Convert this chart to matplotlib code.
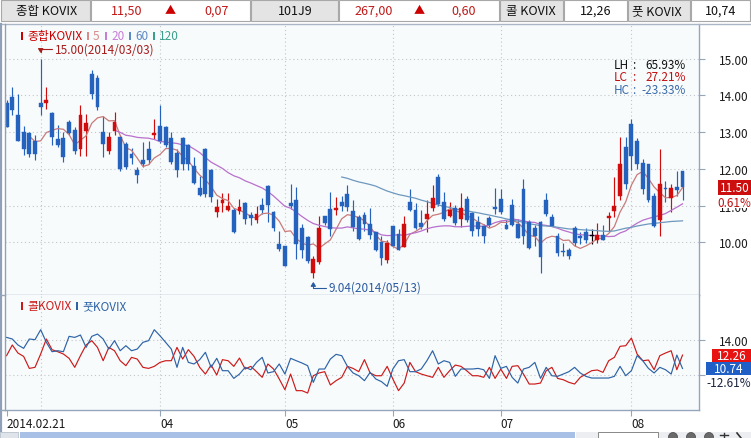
import numpy as np
import pandas as pd
import matplotlib
matplotlib.use("Agg")
import matplotlib.pyplot as plt
from matplotlib.patches import Rectangle, Circle
import matplotlib.transforms as mtrans

plt.rcParams['font.family'] = ['Noto Sans CJK KR', 'DejaVu Sans']

# ---------------- data ----------------
opens = [13.79, 13.97, 13.48, 13.00, 12.97, 12.77, 13.79, 13.80, 13.53, 12.82,
         12.85, 13.27, 13.06, 12.55, 13.02, 14.59, 14.47, 13.00, 12.50, 13.02,
         12.88, 12.68, 12.41, 11.97, 12.25, 12.55, 12.91, 13.18, 13.14, 12.85,
         12.43, 12.85, 12.64, 12.08, 11.47, 12.55, 11.96, 10.82, 11.06, 10.89,
         10.89, 10.86, 11.07, 10.75, 10.62, 11.02, 11.53, 10.82, 9.95, 9.89,
         11.06, 11.14, 10.38, 10.15, 9.16, 9.45, 10.71, 10.91, 10.89, 11.11,
         11.32, 10.85, 10.68, 10.75, 10.50, 10.27, 10.00, 9.52, 10.44, 10.23,
         9.86, 11.11, 10.89, 10.53, 10.64, 10.94, 11.77, 11.09, 10.71, 10.93,
         10.64, 11.18, 10.80, 10.56, 10.44, 10.65, 10.95, 11.18, 10.47, 11.02,
         10.50, 11.44, 10.55, 10.38, 10.56, 11.16, 10.68, 10.18, 9.76, 9.80,
         10.38, 10.16, 10.29, 10.16, 10.07, 10.20, 10.65, 10.84, 11.25, 12.61,
         13.23, 12.77, 12.16, 12.14, 11.25, 10.62, 11.47, 11.20, 11.50, 11.93]
highs = [13.88, 14.23, 14.05, 13.18, 13.00, 12.91, 15.00, 14.23, 13.55, 13.20,
         13.00, 13.34, 13.14, 13.73, 13.50, 14.70, 14.56, 13.43, 13.00, 13.55,
         12.91, 12.73, 12.57, 12.06, 12.73, 12.75, 13.36, 13.73, 13.18, 13.00,
         12.55, 12.88, 12.68, 12.32, 11.80, 12.57, 12.00, 11.17, 11.35, 11.35,
         10.93, 11.18, 11.10, 10.82, 11.00, 11.20, 11.56, 10.86, 10.32, 9.91,
         11.59, 11.52, 10.50, 10.18, 9.64, 10.73, 10.71, 11.38, 11.23, 11.25,
         11.56, 11.14, 10.75, 10.82, 10.93, 10.27, 10.18, 10.05, 10.45, 10.36,
         10.71, 11.44, 11.06, 10.89, 11.14, 11.56, 11.86, 11.38, 11.09, 11.02,
         11.34, 11.27, 10.82, 10.73, 10.50, 10.73, 11.47, 11.45, 10.62, 11.18,
         10.64, 11.73, 10.62, 10.47, 10.59, 11.34, 10.77, 10.25, 9.98, 9.84,
         10.44, 10.27, 10.38, 10.36, 10.53, 10.47, 10.82, 11.77, 12.86, 12.86,
         13.35, 12.84, 12.27, 12.14, 11.34, 12.53, 11.68, 11.59, 11.93, 11.93]
lows = [13.13, 13.48, 12.75, 12.39, 12.32, 12.25, 13.48, 13.64, 12.66, 12.59,
        12.20, 12.91, 12.41, 12.36, 12.34, 13.91, 13.61, 12.32, 12.41, 12.91,
        11.93, 12.00, 12.14, 11.61, 12.06, 12.14, 12.82, 12.70, 12.61, 12.12,
        11.77, 11.97, 11.97, 11.59, 11.27, 11.23, 11.10, 10.70, 10.83, 10.84,
        10.24, 10.76, 10.50, 10.47, 10.52, 10.77, 10.55, 10.32, 9.77, 9.36,
        10.91, 9.55, 9.56, 9.43, 9.04, 9.41, 10.47, 10.18, 10.75, 10.86,
        10.86, 10.32, 10.07, 10.32, 10.09, 9.77, 9.39, 9.43, 9.86, 9.80,
        9.86, 10.86, 10.35, 10.36, 10.27, 10.86, 11.00, 10.59, 10.68, 10.47,
        10.41, 10.56, 10.18, 10.18, 9.98, 10.41, 10.77, 10.77, 10.35, 10.45,
        10.11, 9.95, 9.82, 9.91, 9.16, 10.73, 10.45, 9.62, 9.62, 9.55,
        9.91, 9.95, 9.98, 9.94, 9.98, 10.05, 10.27, 10.68, 11.16, 11.45,
        11.98, 12.00, 11.32, 11.11, 10.41, 10.16, 11.09, 10.82, 11.27, 11.16]
closes = [13.13, 13.61, 12.75, 12.55, 12.41, 12.41, 13.70, 13.88, 12.86, 12.64,
          12.32, 12.97, 12.50, 13.47, 13.25, 14.03, 13.70, 12.68, 12.88, 13.29,
          12.00, 12.05, 12.30, 11.84, 12.14, 12.23, 12.98, 12.77, 12.64, 12.18,
          11.98, 12.14, 12.14, 11.62, 11.28, 11.32, 11.24, 10.96, 11.16, 11.00,
          10.28, 10.95, 10.64, 10.65, 10.77, 10.89, 11.02, 10.38, 9.82, 9.36,
          10.98, 9.95, 9.80, 9.50, 9.55, 10.39, 10.53, 10.36, 10.93, 10.99,
          10.95, 10.41, 10.09, 10.50, 10.20, 9.80, 9.56, 9.98, 9.91, 9.80,
          10.50, 10.89, 10.38, 10.41, 10.77, 11.21, 11.05, 10.64, 10.89, 10.53,
          10.94, 10.62, 10.32, 10.36, 10.16, 10.47, 10.91, 10.82, 10.35, 10.47,
          10.11, 10.18, 9.84, 10.18, 9.59, 10.77, 10.45, 9.71, 9.73, 9.64,
          9.98, 10.11, 10.05, 10.16, 10.20, 10.07, 10.71, 11.00, 12.14, 11.59,
          12.35, 12.14, 11.44, 11.16, 10.44, 11.59, 11.44, 11.47, 11.43, 11.50]
call_kovix = [12.19, 13.40, 12.49, 12.11, 10.75, 10.87, 12.38, 14.08, 12.87, 12.64,
              12.38, 11.89, 10.87, 12.19, 13.40, 13.89, 13.13, 11.62, 13.13, 12.75,
              11.62, 11.06, 12.00, 11.81, 10.87, 10.75, 10.98, 11.43, 11.62, 11.62,
              13.13, 11.81, 12.87, 12.11, 10.87, 10.11, 11.13, 10.00, 11.74, 11.62,
              10.98, 11.92, 10.68, 10.98, 10.38, 9.74, 11.25, 10.68, 9.55, 8.34,
              10.11, 8.23, 8.23, 7.96, 9.92, 10.23, 10.38, 8.87, 9.36, 9.74,
              10.98, 10.75, 10.38, 11.74, 10.23, 9.92, 9.92, 10.98, 9.55, 8.23,
              9.09, 11.43, 10.38, 10.11, 9.92, 9.74, 10.87, 9.74, 10.49, 11.13,
              10.98, 10.49, 9.92, 9.92, 9.74, 10.87, 9.62, 10.68, 9.62, 10.98,
              11.06, 10.11, 8.98, 8.98, 9.09, 10.49, 10.87, 9.62, 9.47, 9.17,
              8.98, 9.74, 10.11, 10.49, 10.57, 10.30, 11.62, 12.00, 13.25, 13.32,
              14.19, 12.38, 11.62, 11.70, 10.60, 12.19, 12.49, 12.75, 10.60, 12.26]
put_kovix = [14.26, 14.08, 13.40, 13.02, 14.08, 14.00, 15.13, 13.70, 12.64, 12.75,
             12.64, 14.38, 14.26, 14.53, 13.13, 14.38, 14.64, 14.08, 12.94, 13.89,
             12.75, 13.32, 12.75, 12.94, 13.70, 13.89, 15.13, 14.45, 13.70, 12.94,
             10.87, 13.13, 11.43, 11.25, 11.74, 12.57, 10.87, 11.89, 10.49, 10.49,
             9.62, 10.11, 10.87, 10.60, 11.43, 12.00, 10.23, 10.38, 11.25, 10.11,
             11.89, 11.62, 11.36, 11.06, 9.17, 10.68, 10.68, 11.81, 12.34, 12.19,
             10.98, 10.23, 9.92, 9.36, 10.30, 9.55, 9.25, 8.72, 10.68, 11.62,
             11.74, 10.38, 10.38, 10.68, 11.62, 12.75, 11.25, 11.62, 11.43, 9.85,
             10.68, 10.68, 10.68, 10.75, 10.60, 9.62, 12.19, 10.75, 10.98, 9.74,
             9.09, 10.68, 10.87, 11.43, 9.62, 10.87, 9.92, 9.85, 10.11, 10.38,
             10.87, 10.23, 9.85, 9.66, 9.66, 9.66, 9.66, 9.85, 10.98, 9.92,
             10.49, 12.19, 11.62, 10.75, 10.23, 10.87, 10.60, 10.11, 12.26, 10.74]

hi_date = '2014/03/03'
lo_date = '2014/05/13'
month_idx = [6, 27, 49, 68, 87, 110]
tick_idx = [0, 27, 49, 68, 87, 110]
tick_lbl = ['2014.02.21', '04', '05', '06', '07', '08']
price_ticks = [10, 11, 12, 13, 14, 15]
sub_ticks = [10, 14]
sub_tick_lbl = ['', '14.00']
ma_windows = [5, 20, 60, 120]
ma_labels = ['5', '20', '60', '120']
ma_colors = ['#c97a7a', '#b870cc', '#6d98bd', '#3aa08c']
main_name = '종합KOVIX'
call_name = '콜KOVIX'
put_name = '풋KOVIX'
fut_name = '101J9'
fut_price = 267.00
fut_change = 0.60
sub_pct = -12.61

# ---------------- layout ----------------
W, H = 751, 439
AX_L, AX_R = 5, 699
AX_T, AX_M, AX_B = 25, 296, 411
XLIM = (-0.28, 121.9)
YLIM_MAIN = (8.564, 15.948)
YLIM_SUB = (6.04, 19.06)
RED = '#d00c0c'
BLUE = '#2462bd'
FRAME = '#95a5ba'
GRID = '#c2c6ca'
PLOT_BG = '#f8fbfc'

fig = plt.figure(figsize=(W / 100, H / 100), dpi=100)
fig.patch.set_facecolor('white')


def frect(l, t, r, b):
    return [l / W, 1 - b / H, (r - l) / W, (b - t) / H]


ax = fig.add_axes(frect(AX_L, AX_T, AX_R, AX_M))
ax2 = fig.add_axes(frect(AX_L, AX_M, AX_R, AX_B))
ov = fig.add_axes([0, 0, 1, 1])
ov.set_xlim(0, W)
ov.set_ylim(H, 0)
ov.axis('off')
ov.patch.set_alpha(0)

for a in (ax, ax2):
    a.set_facecolor(PLOT_BG)
    a.set_xlim(*XLIM)
    for s in ('left', 'top'):
        a.spines[s].set_visible(False)
    for s in ('right', 'bottom'):
        a.spines[s].set_color(FRAME)
        a.spines[s].set_linewidth(1.0)
ax.set_ylim(*YLIM_MAIN)
ax2.set_ylim(*YLIM_SUB)

dotted = (0, (1, 2.5))
for t in price_ticks:
    ax.axhline(t, color=GRID, lw=0.8, ls=dotted, zorder=0.5)
for t in sub_ticks:
    ax2.axhline(t, color=GRID, lw=0.8, ls=dotted, zorder=0.5)
for m in month_idx:
    ax.axvline(m, color=GRID, lw=0.8, ls=dotted, zorder=0.5)
    ax2.axvline(m, color=GRID, lw=0.8, ls=dotted, zorder=0.5)

# ---------------- candles ----------------
o = np.array(opens); h = np.array(highs); l = np.array(lows); c = np.array(closes)
n = len(c)
x = np.arange(n)
cols = np.where(c > o, RED, np.where(c < o, BLUE, '#000000'))
ax.vlines(x, l, h, colors=cols, lw=0.85, zorder=2)
body_bot = np.minimum(o, c)
body_h = np.maximum(np.abs(c - o), 0.03)
ax.bar(x, body_h, bottom=body_bot, width=0.68, color=cols, edgecolor=cols,
       lw=0.3, zorder=3)

cs = pd.Series(closes)
for w, col in zip(ma_windows, ma_colors):
    ax.plot(x, cs.rolling(w).mean(), color=col, lw=0.9, zorder=2.5)

# ---------------- sub panel ----------------
ax2.plot(x, call_kovix, color='#cc1a1a', lw=0.85, zorder=2)
ax2.plot(x, put_kovix, color='#2d63a6', lw=0.85, zorder=2)

# ---------------- ticks ----------------
for a, tk, tl in ((ax, price_ticks, [f'{t:.2f}' for t in price_ticks]),
                  (ax2, sub_ticks, sub_tick_lbl)):
    a.yaxis.tick_right()
    a.set_yticks(tk)
    a.set_yticklabels(tl)
    a.tick_params(axis='y', direction='out', length=4.5, width=0.8, color=FRAME,
                  labelsize=8.5, labelcolor='#1a1a1a', pad=10)
ax.tick_params(axis='x', bottom=False, labelbottom=False)
ax2.set_xticks(tick_idx)
ax2.set_xticklabels(tick_lbl)
for lb in ax2.get_xticklabels():
    lb.set_horizontalalignment('left')
ax2.tick_params(axis='x', direction='out', length=4, width=0.8, color=FRAME,
                labelsize=8.5, labelcolor='#1a1a1a', pad=1)

# ---------------- hi / lo annotations ----------------
hi_i = int(np.argmax(h)); lo_i = int(np.argmin(l))
ax.annotate(f'{h[hi_i]:.2f}({hi_date})', xy=(hi_i, h[hi_i]), xytext=(14, 10),
            textcoords='offset pixels', ha='left', va='center', color='#a81c1c',
            fontsize=8.5, annotation_clip=False,
            arrowprops=dict(arrowstyle='-|>,head_length=0.3,head_width=0.18',
                            color='#a81c1c', lw=0.8, shrinkA=0, shrinkB=4,
                            relpos=(0, 0.5),
                            connectionstyle='angle,angleA=0,angleB=90,rad=0'))
ax.annotate(f'{l[lo_i]:.2f}({lo_date})', xy=(lo_i, l[lo_i]), xytext=(15, -10),
            textcoords='offset pixels', ha='left', va='center', color='#2a5aa0',
            fontsize=8.5, annotation_clip=False,
            arrowprops=dict(arrowstyle='-|>,head_length=0.3,head_width=0.18',
                            color='#2a5aa0', lw=0.8, shrinkA=0, shrinkB=3,
                            relpos=(0, 0.5),
                            connectionstyle='angle,angleA=0,angleB=90,rad=0'))


# ---------------- right value boxes ----------------
def ax_frac(xpx):
    return (xpx - AX_L) / (AX_R - AX_L)


def value_box(a, ylim, ax_h_px, value, x0, x1, hpx, text, fc, tc, dy_px=0, fs=8.5):
    dpp = (ylim[1] - ylim[0]) / ax_h_px
    tr = mtrans.blended_transform_factory(a.transAxes, a.transData)
    yc = value - dy_px * dpp
    a.add_patch(Rectangle((ax_frac(x0), yc - hpx / 2 * dpp), ax_frac(x1) - ax_frac(x0),
                          hpx * dpp, transform=tr, fc=fc, ec='none', clip_on=False, zorder=5))
    a.text((ax_frac(x0) + ax_frac(x1)) / 2, yc, text, transform=tr, ha='center',
           va='center', color=tc, fontsize=fs, clip_on=False, zorder=6)


pct = (c[-1] - c[-2]) / c[-2] * 100
value_box(ax, YLIM_MAIN, AX_M - AX_T, c[-1], 718, 751, 15, f'{c[-1]:.2f}', '#cc0e0e', 'white')
value_box(ax, YLIM_MAIN, AX_M - AX_T, c[-1], 718, 751, 12, f'{pct:.2f}%', 'white', '#c01010', dy_px=15)
value_box(ax2, YLIM_SUB, AX_B - AX_M, call_kovix[-1], 712, 751, 13, f'{call_kovix[-1]:.2f}', '#e81212', 'white')
value_box(ax2, YLIM_SUB, AX_B - AX_M, put_kovix[-1], 706, 751, 13, f'{put_kovix[-1]:.2f}', '#1f5fc6', 'white')
value_box(ax2, YLIM_SUB, AX_B - AX_M, put_kovix[-1], 706, 751, 12, f'{sub_pct:.2f}%', 'white', '#1b2440', dy_px=14)

# ---------------- LH / LC / HC ----------------
lh = (h.max() / l.min() - 1) * 100
lc = (c[-1] / l.min() - 1) * 100
hc = (c[-1] / h.max() - 1) * 100
for yy, lab, val, col in ((65.7, 'LH', lh, '#111111'), (77.7, 'LC', lc, '#c01010'),
                          (90.0, 'HC', hc, '#3a6aa8')):
    ov.text(614, yy, lab, ha='left', va='center', fontsize=8.5, color=col)
    ov.text(634, yy, ':', ha='center', va='center', fontsize=8.5, color=col)
    ov.text(686, yy, f'{val:.2f}%', ha='right', va='center', fontsize=8.5, color=col)

# ---------------- legends ----------------
ov.add_patch(Rectangle((20.5, 33), 2.2, 7.5, fc='#cc0000', ec='none'))
ov.text(27, 36.7, main_name, ha='left', va='center', fontsize=8.5, color='#cc0000')
for mx, tx, lab, col in zip([87, 105, 129, 153], [93, 111, 135, 159], ma_labels,
                            ['#d98a8a', '#c77dd6', '#5b8ac4', '#3aa08c']):
    ov.add_patch(Rectangle((mx, 33), 2.2, 7.5, fc=col, ec='none'))
    ov.text(tx, 36.7, lab, ha='left', va='center', fontsize=8.5, color=col)
ov.add_patch(Rectangle((21, 303), 2.2, 7.5, fc='#cc1a1a', ec='none'))
ov.text(27, 306.7, call_name, ha='left', va='center', fontsize=8.5, color='#cc1a1a')
ov.add_patch(Rectangle((75.5, 303), 2.2, 7.5, fc='#2d63a6', ec='none'))
ov.text(82, 306.7, put_name, ha='left', va='center', fontsize=8.5, color='#2d63a6')

# ---------------- header ----------------
cells = [(0, 90.7, True), (90.7, 250.7, False), (250.7, 338.3, True), (338.3, 499, False),
         (499, 563, True), (563, 627, False), (627, 690, True), (690, 750.5, False)]
for x0, x1, gray in cells:
    ov.add_patch(Rectangle((x0 + 0.5, 1), x1 - x0 - 1, 20.5,
                           fc='#e4e4e4' if gray else 'white', ec='#a8a8a8', lw=0.8))
HRED = '#c01818'
hdr = [(47, '종합 KOVIX', '#111111', 9),
       (127, f'{c[-1]:.2f}'.replace('.', ','), HRED, 9),
       (170, '▲', '#cc0000', 8),
       (217, f'{c[-1] - c[-2]:.2f}'.replace('.', ','), HRED, 9),
       (295, fut_name, '#111111', 9),
       (374, f'{fut_price:.2f}'.replace('.', ','), HRED, 9),
       (419, '▲', '#cc0000', 8),
       (464, f'{fut_change:.2f}'.replace('.', ','), HRED, 9),
       (531, '콜 KOVIX', '#111111', 9),
       (596, f'{call_kovix[-1]:.2f}'.replace('.', ','), '#111111', 9),
       (657, '풋 KOVIX', '#111111', 9),
       (721, f'{put_kovix[-1]:.2f}'.replace('.', ','), '#111111', 9)]
for xx, tx, col, fs in hdr:
    ov.text(xx, 11.5, tx, ha='center', va='center', fontsize=fs, color=col)

# frame lines
ov.plot([0, W], [25, 25], color='#aab6c6', lw=1.0)
ov.plot([1.2, 1.2], [25, 432], color='#8fa0b8', lw=1.6)
ov.plot([5, 5], [25, 411], color='#8fa0b8', lw=1.0)
ov.plot([0, AX_L], [AX_B, AX_B], color=FRAME, lw=1.0)
ov.plot([0, AX_L], [AX_M, AX_M], color=FRAME, lw=1.0)

# ---------------- scrollbar ----------------
ov.add_patch(Rectangle((0, 433), 18, 6, fc='#dfe4ea', ec='#b8c0cc', lw=0.6))
ov.add_patch(Rectangle((20, 433), 555, 6, fc='#a9c0e6', ec='none'))
ov.add_patch(Rectangle((576, 433), 175, 6, fc='#eceef2', ec='none'))
ov.add_patch(Rectangle((598, 433.5), 60, 6, fc='white', ec='#777777', lw=0.6))
for cx in (673, 691, 709):
    ov.add_patch(Circle((cx, 438), 4.5, fc='#6a6a6a', ec='#444444', lw=0.5))
ov.plot([724, 724], [434, 439], color='#333333', lw=1)
ov.plot([720, 728], [436.5, 436.5], color='#333333', lw=1)
ov.plot([737, 741], [434, 439], color='#333333', lw=1.2)

fig.savefig('out.png', dpi=100, facecolor='white')
